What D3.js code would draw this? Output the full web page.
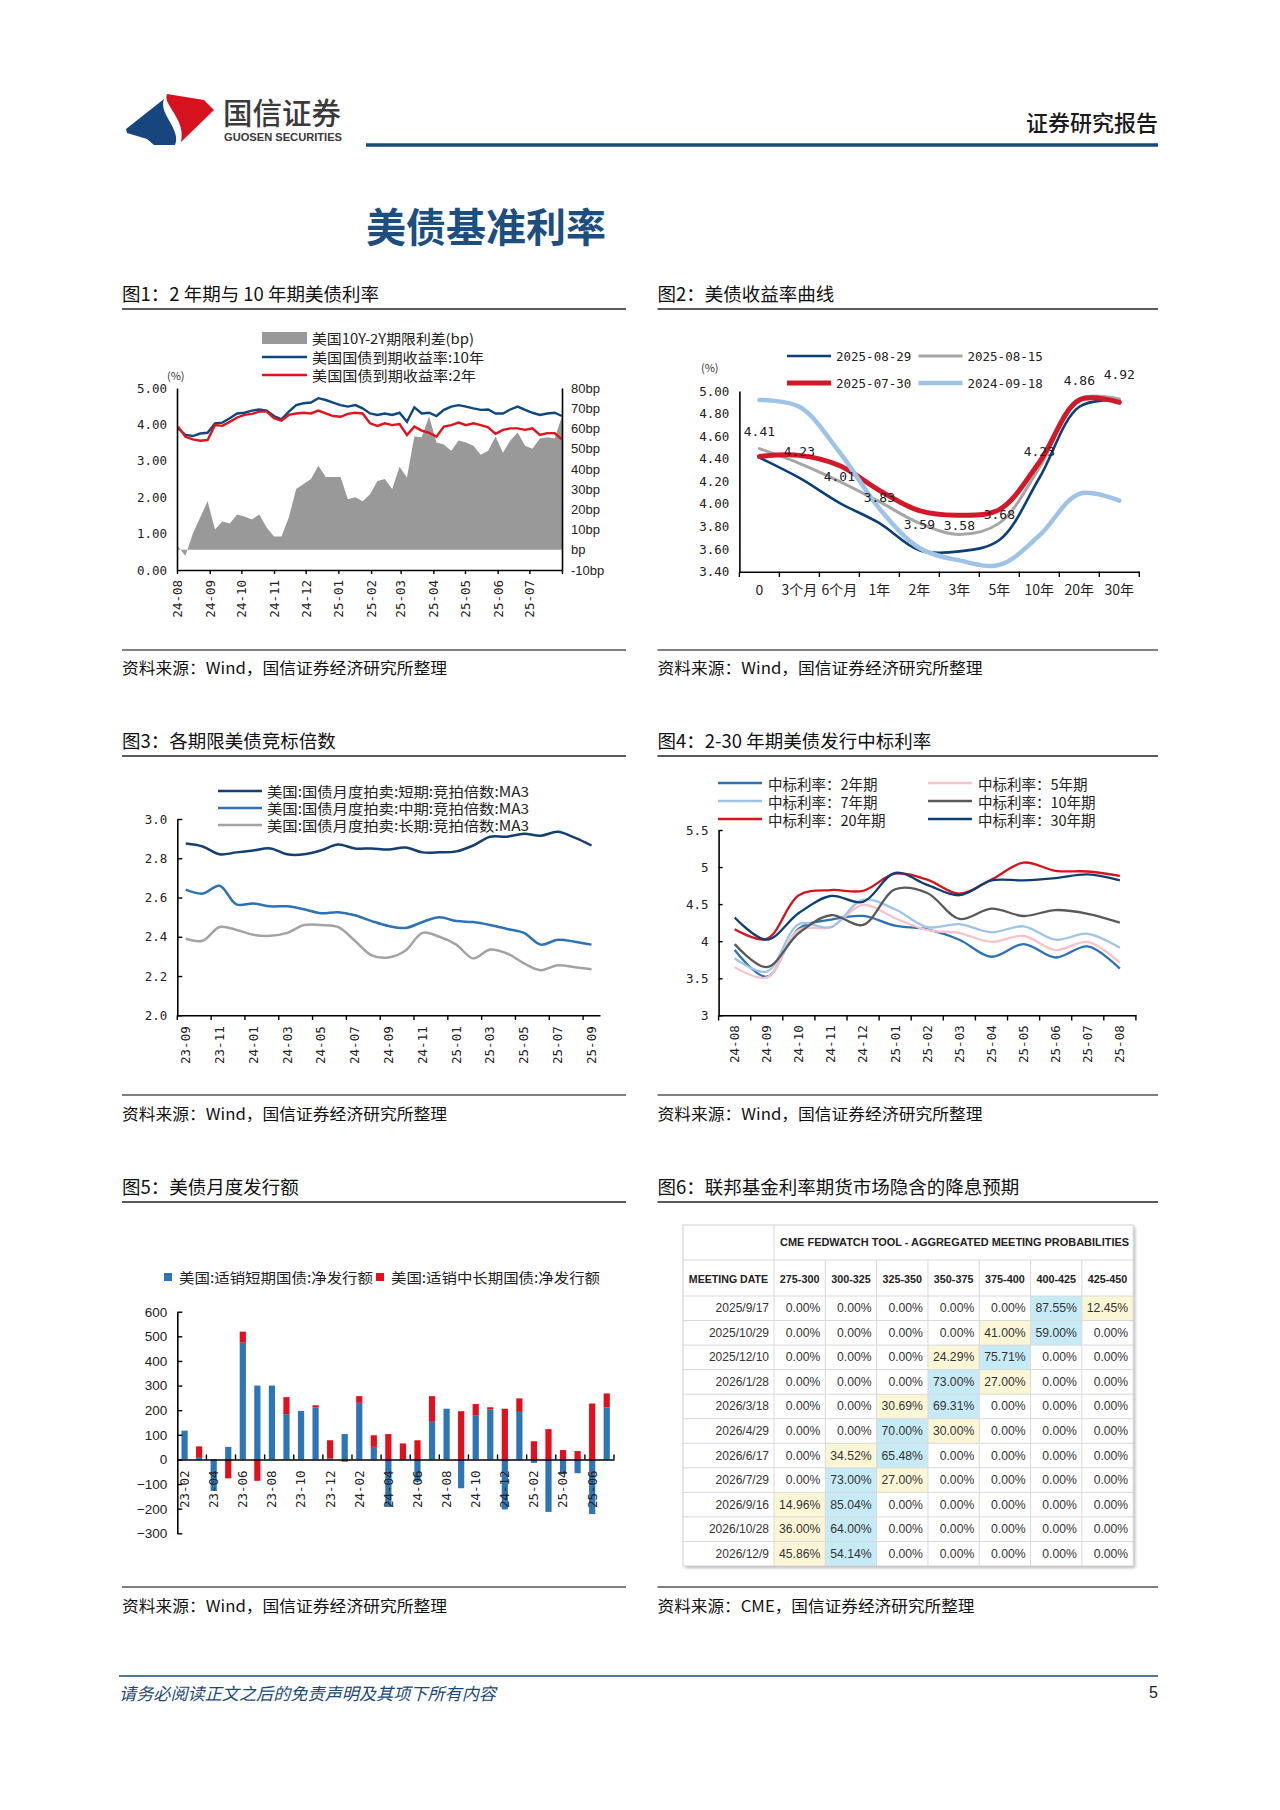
<!DOCTYPE html>
<html><head><meta charset="utf-8">
<script src="https://cdn.jsdelivr.net/npm/d3@7"></script>
<style>html,body{margin:0;padding:0;background:#fff}svg{display:block}</style>
</head><body>
<svg id="page" width="1280" height="1810" xmlns="http://www.w3.org/2000/svg"></svg>
<script>
// ================= DATA =================
// Chart 1: weekly readings 2024-08-02 .. 2025-07-31
const c1Start = "2024-08-02";
const c1Y10 = [3.89,3.71,3.68,3.75,3.77,4.03,4.05,4.17,4.30,4.32,4.38,4.41,4.38,4.23,4.14,4.35,4.53,4.58,4.60,4.72,4.67,4.60,4.53,4.49,4.53,4.44,4.30,4.26,4.30,4.26,4.32,4.07,4.47,4.30,4.32,4.23,4.40,4.49,4.53,4.49,4.44,4.40,4.41,4.30,4.30,4.41,4.49,4.40,4.32,4.26,4.30,4.32,4.23];
const c1Y2 = [3.94,3.66,3.59,3.55,3.57,3.98,3.96,4.07,4.19,4.26,4.29,4.35,4.35,4.17,4.10,4.26,4.30,4.32,4.30,4.38,4.30,4.23,4.21,4.29,4.32,4.30,4.03,3.96,4.03,3.98,4.01,3.71,3.94,3.83,3.77,3.66,3.94,3.98,4.05,3.98,4.03,3.98,3.92,3.74,3.85,3.89,3.89,3.85,3.89,3.71,3.76,3.76,3.59];
const c1Spread = [1.5,-3,8,16,24,10,14,13,17.5,16.5,15,17.5,11,6.6,6.6,16,30,32.5,35,41.5,36,36,36,25,26,24,27.5,34,35,30,41,35.8,56,55.6,66,53,52,49,54,53,51.5,47,49,56,48,54,58,51.5,50,55,55.6,55,66];
const c1TickLabels = ["24-08","24-09","24-10","24-11","24-12","25-01","25-02","25-03","25-04","25-05","25-06","25-07"];
const c1LeftTicks = [0,1,2,3,4,5];
const c1RightTicks = [-10,0,10,20,30,40,50,60,70,80];
const c1Legend = ["美国10Y-2Y期限利差(bp)","美国国债到期收益率:10年","美国国债到期收益率:2年"];

// Chart 2: yield curves
const c2Cats = ["0","3个月","6个月","1年","2年","3年","5年","10年","20年","30年"];
const c2_0829 = [4.41,4.23,4.01,3.83,3.59,3.58,3.68,4.23,4.86,4.92];
const c2_0815 = [4.49,4.36,4.20,4.02,3.83,3.73,3.83,4.32,4.93,4.93];
const c2_0730 = [4.42,4.43,4.34,4.12,3.94,3.90,3.95,4.37,4.92,4.90];
const c2_0918 = [4.92,4.86,4.46,3.96,3.61,3.50,3.46,3.72,4.09,4.03];
const c2Names = ["2025-08-29","2025-08-15","2025-07-30","2024-09-18"];
const c2Ticks = [3.4,3.6,3.8,4.0,4.2,4.4,4.6,4.8,5.0];

// Chart 3: bid-to-cover MA3
const c3Cats = ["23-09","23-10","23-11","23-12","24-01","24-02","24-03","24-04","24-05","24-06","24-07","24-08","24-09","24-10","24-11","24-12","25-01","25-02","25-03","25-04","25-05","25-06","25-07","25-08","25-09"];
const c3Short = [2.875,2.86,2.82,2.83,2.84,2.85,2.82,2.82,2.84,2.87,2.85,2.85,2.845,2.855,2.83,2.83,2.835,2.865,2.91,2.91,2.925,2.915,2.935,2.905,2.865];
const c3Mid = [2.64,2.62,2.66,2.565,2.57,2.555,2.555,2.54,2.52,2.525,2.51,2.48,2.455,2.445,2.475,2.50,2.48,2.475,2.46,2.44,2.42,2.36,2.385,2.375,2.36];
const c3Long = [2.39,2.38,2.45,2.435,2.41,2.405,2.42,2.46,2.46,2.45,2.38,2.305,2.295,2.33,2.42,2.40,2.36,2.29,2.335,2.315,2.265,2.23,2.255,2.245,2.235];
const c3Names = ["美国:国债月度拍卖:短期:竞拍倍数:MA3","美国:国债月度拍卖:中期:竞拍倍数:MA3","美国:国债月度拍卖:长期:竞拍倍数:MA3"];
const c3Ticks = [2.0,2.2,2.4,2.6,2.8,3.0];

// Chart 4: auction high yields
const c4Cats = ["24-08","24-09","24-10","24-11","24-12","25-01","25-02","25-03","25-04","25-05","25-06","25-07","25-08"];
const c4Y2 = [3.88,3.52,4.17,4.29,4.34,4.21,4.16,4.02,3.79,3.96,3.78,3.93,3.63];
const c4Y5 = [3.65,3.51,4.15,4.19,4.49,4.31,4.15,4.11,3.99,4.07,3.88,3.99,3.71];
const c4Y7 = [3.77,3.59,4.23,4.19,4.56,4.43,4.19,4.23,4.12,4.20,4.02,4.10,3.91];
const c4Y10 = [3.96,3.65,4.11,4.35,4.22,4.70,4.65,4.30,4.44,4.34,4.42,4.37,4.25];
const c4Y20 = [4.16,4.03,4.62,4.69,4.68,4.91,4.83,4.64,4.83,5.06,4.95,4.94,4.88];
const c4Y30 = [4.32,4.02,4.38,4.61,4.53,4.92,4.76,4.62,4.82,4.82,4.85,4.90,4.82];
const c4Names = ["中标利率：2年期","中标利率：5年期","中标利率：7年期","中标利率：10年期","中标利率：20年期","中标利率：30年期"];
const c4Ticks = [3,3.5,4,4.5,5,5.5];

// Chart 5: monthly net issuance
const c5Cats = ["23-02","23-03","23-04","23-05","23-06","23-07","23-08","23-09","23-10","23-11","23-12","24-01","24-02","24-03","24-04","24-05","24-06","24-07","24-08","24-09","24-10","24-11","24-12","25-01","25-02","25-03","25-04","25-05","25-06","25-07"];
const c5Short = [117,10,-128,51,474,300,300,184,197,211,4,103,230,51,-193,-2,-90,153,206,-117,180,203,-203,193,-14,-213,-60,-56,-222,211];
const c5Long = [0,43,0,-77,45,-87,0,69,0,9,74,-9,27,47,103,65,78,104,0,196,45,9,206,55,74,123,38,34,227,57];
const c5Names = ["美国:适销短期国债:净发行额","美国:适销中长期国债:净发行额"];
const c5Ticks = [-300,-200,-100,0,100,200,300,400,500,600];

// Chart 6: FedWatch table
const c6Dates = ["2025/9/17","2025/10/29","2025/12/10","2026/1/28","2026/3/18","2026/4/29","2026/6/17","2026/7/29","2026/9/16","2026/10/28","2026/12/9"];
const c6Ranges = ["275-300","300-325","325-350","350-375","375-400","400-425","425-450"];
const c6Probs = [
 [0,0,0,0,0,87.55,12.45],
 [0,0,0,0,41.00,59.00,0],
 [0,0,0,24.29,75.71,0,0],
 [0,0,0,73.00,27.00,0,0],
 [0,0,30.69,69.31,0,0,0],
 [0,0,70.00,30.00,0,0,0],
 [0,34.52,65.48,0,0,0,0],
 [0,73.00,27.00,0,0,0,0],
 [14.96,85.04,0,0,0,0,0],
 [36.00,64.00,0,0,0,0,0],
 [45.86,54.14,0,0,0,0,0]
];

// ================= HELPERS =================
const CJK = '"Noto Sans CJK SC","Noto Sans",sans-serif';
const MONO = '"DejaVu Sans Mono","Liberation Mono",monospace';
const ARIAL = '"Liberation Sans",Arial,sans-serif';
const svg = d3.select("#page");

function txt(g, x, y, s, o = {}) {
  const t = g.append("text").attr("x", x).attr("y", y)
    .attr("dominant-baseline", "central")
    .attr("font-family", o.ff || CJK).attr("font-size", o.fs || 13)
    .attr("fill", o.fill || "#222").attr("text-anchor", o.anchor || "start")
    .attr("font-weight", o.fw || "normal").attr("font-style", o.style || "normal")
    .text(s);
  if (o.len) t.attr("textLength", o.len).attr("lengthAdjust", "spacingAndGlyphs");
  return t;
}
function hline(g, x1, x2, y, color, w) {
  g.append("line").attr("x1", x1).attr("x2", x2).attr("y1", y).attr("y2", y)
    .attr("stroke", color).attr("stroke-width", w);
}
function styleAxis(sel, ff, fs) {
  sel.attr("font-family", ff).attr("font-size", fs);
  sel.select(".domain").attr("stroke", "#000").attr("stroke-width", 1.6);
  sel.selectAll(".tick line").attr("stroke", "#000").attr("stroke-width", 1.4);
  sel.selectAll(".tick text").attr("fill", "#222");
  return sel;
}
function rotateLabels(sel, off) {
  sel.selectAll(".tick text").attr("transform", "rotate(-90)")
    .attr("text-anchor", "end").attr("x", -off).attr("y", 0).attr("dy", "0.35em");
}
function panel(x0, x1, rowY, title, source, srcLen) {
  const g = svg.append("g");
  txt(g, x0, rowY.t, title, { fs: 18.5, fill: "#111" });
  hline(g, x0, x1, rowY.l, "#222", 1.3);
  hline(g, x0, x1, rowY.s, "#7f7f7f", 1.8);
  txt(g, x0, rowY.st, source, { fs: 15.5, fill: "#111", len: srcLen });
}

// ================= HEADER =================
const hd = svg.append("g");
hd.append("path").attr("d", "M167,94 L204,100 L214,110 L181,142 C184,128 177,118 172,110 C168,103 165,99 167,94 Z").attr("fill", "#d7121f");
hd.append("path").attr("d", "M164,99 C161,107 166,115 170,122 C175,131 178,138 175,145 L154,145 L147,139 L127,133 L126,129 Z").attr("fill", "#16467d");
txt(hd, 223, 111, "国信证券", { fs: 29.5, fill: "#3a3a3a", fw: 500 });
txt(hd, 224, 137, "GUOSEN SECURITIES", { fs: 11, fill: "#3a3a3a", fw: "bold", ff: ARIAL, len: 118 });
txt(hd, 1158, 121, "证券研究报告", { fs: 22, fill: "#1a1a1a", anchor: "end", fw: 500 });
hline(hd, 366, 1158, 145, "#1c4a78", 3.5);
txt(hd, 366, 225, "美债基准利率", { fs: 40, fill: "#1d4e80", fw: "bold" });

// ================= PANELS =================
const R1 = { t: 293, l: 309, s: 650, st: 667 };
const R2 = { t: 740, l: 756, s: 1095, st: 1113 };
const R3 = { t: 1186, l: 1202, s: 1587, st: 1605 };
const LX = [122, 626], RX = [657.5, 1158];
const SRC = "资料来源：Wind，国信证券经济研究所整理";
panel(LX[0], LX[1], R1, "图1：2 年期与 10 年期美债利率", SRC, 325);
panel(RX[0], RX[1], R1, "图2：美债收益率曲线", SRC, 325);
panel(LX[0], LX[1], R2, "图3：各期限美债竞标倍数", SRC, 325);
panel(RX[0], RX[1], R2, "图4：2-30 年期美债发行中标利率", SRC, 325);
panel(LX[0], LX[1], R3, "图5：美债月度发行额", SRC, 325);
panel(RX[0], RX[1], R3, "图6：联邦基金利率期货市场隐含的降息预期", "资料来源：CME，国信证券经济研究所整理", 317);

// ================= CHART 1 =================
(function () {
  const g = svg.append("g");
  const parseYM = d3.timeParse("%y-%m");
  const start = d3.timeParse("%Y-%m-%d")(c1Start);
  const dates = c1Y10.map((_, i) => d3.timeDay.offset(start, 7 * i));
  const x = d3.scaleTime().domain([parseYM("24-08"), parseYM("25-08")]).range([177, 562]);
  const yL = d3.scaleLinear().domain([0, 5]).range([570, 388]);
  const yR = d3.scaleLinear().domain([-10, 80]).range([570, 388]);
  g.append("path").datum(c1Spread)
    .attr("d", d3.area().x((d, i) => x(dates[i])).y0(yR(0)).y1(d => yR(d)))
    .attr("fill", "#999999");
  const ln = d3.line().x((d, i) => x(dates[i])).y(d => yL(d));
  g.append("path").datum(c1Y10).attr("d", ln).attr("fill", "none").attr("stroke", "#0f477f").attr("stroke-width", 2.4);
  g.append("path").datum(c1Y2).attr("d", ln).attr("fill", "none").attr("stroke", "#e0141f").attr("stroke-width", 2.4);
  styleAxis(g.append("g").attr("transform", "translate(177,0)")
    .call(d3.axisLeft(yL).tickValues(c1LeftTicks).tickSize(0).tickSizeOuter(0).tickPadding(10).tickFormat(d3.format(".2f"))), MONO, 12.5);
  styleAxis(g.append("g").attr("transform", "translate(562,0)")
    .call(d3.axisRight(yR).tickValues(c1RightTicks).tickSize(0).tickSizeOuter(0).tickPadding(9).tickFormat(d => d === 0 ? "bp" : d + "bp")), ARIAL, 13);
  const tv = c1TickLabels.map(parseYM).concat([parseYM("25-08")]);
  const xa = styleAxis(g.append("g").attr("transform", "translate(0,570)")
    .call(d3.axisBottom(x).tickValues(tv).tickSize(4).tickSizeOuter(0)
      .tickFormat(d => { const s = d3.timeFormat("%y-%m")(d); return c1TickLabels.includes(s) ? s : ""; })), MONO, 12.5);
  rotateLabels(xa, 10);
  txt(g, 167, 375, "(%)", { fs: 11, fill: "#333" });
  // legend
  g.append("rect").attr("x", 262).attr("y", 332).attr("width", 45).attr("height", 12).attr("fill", "#999999");
  hline(g, 262, 307, 357, "#0f477f", 2.4);
  hline(g, 262, 307, 375, "#e0141f", 2.4);
  const lens = [162, 172, 164];
  c1Legend.forEach((s, i) => txt(g, 312, [338, 357, 375][i], s, { fs: 14, fill: "#222", len: lens[i] }));
})();

// ================= CHART 2 =================
(function () {
  const g = svg.append("g");
  const x = d3.scaleBand().domain(c2Cats).range([739.4, 1139.3]);
  const y = d3.scaleLinear().domain([3.4, 5.0]).range([571.7, 391]);
  const cx = i => x(c2Cats[i]) + x.bandwidth() / 2;
  const series = [
    { v: c2_0829, c: "#0c3f73", w: 2.6 },
    { v: c2_0815, c: "#a6a6a6", w: 3 },
    { v: c2_0730, c: "#d1192a", w: 5 },
    { v: c2_0918, c: "#9ec3e6", w: 4.5 }
  ];
  const ln = d3.line().x((d, i) => cx(i)).y(d => y(d)).curve(d3.curveCatmullRom.alpha(0.5));
  series.forEach(s => g.append("path").datum(s.v).attr("d", ln).attr("fill", "none")
    .attr("stroke", s.c).attr("stroke-width", s.w).attr("stroke-linecap", "round"));
  styleAxis(g.append("g").attr("transform", "translate(739.4,0)")
    .call(d3.axisLeft(y).tickValues(c2Ticks).tickSize(0).tickSizeOuter(0).tickPadding(10).tickFormat(d3.format(".2f"))), MONO, 12.5);
  const xa = styleAxis(g.append("g").attr("transform", "translate(0,571.7)")
    .call(d3.axisBottom(x).tickSize(0).tickSizeOuter(0).tickPadding(12)), CJK, 14);
  xa.selectAll(".tick text").attr("dy", "0.35em").attr("y", 18);
  const bounds = c2Cats.map(c => x(c)).concat([x.range()[1]]);
  g.selectAll(".c2tick").data(bounds).enter().append("line")
    .attr("x1", d => d).attr("x2", d => d).attr("y1", 571.7).attr("y2", 577)
    .attr("stroke", "#000").attr("stroke-width", 1.4);
  // data labels for 2025-08-29
  c2_0829.forEach((v, i) => txt(g, cx(i), y(v) - 26, d3.format(".2f")(v), { ff: MONO, fs: 13, anchor: "middle", fill: "#222" }));
  txt(g, 701, 367, "(%)", { fs: 11, fill: "#333" });
  // legend
  const lg = [[787, 356], [918.5, 356], [787, 383], [918.5, 383]];
  series.forEach((s, i) => {
    hline(g, lg[i][0], lg[i][0] + 44, lg[i][1], s.c, s.w);
    txt(g, lg[i][0] + 49, lg[i][1], c2Names[i], { ff: MONO, fs: 12.5, fill: "#222" });
  });
})();

// ================= CHART 3 =================
(function () {
  const g = svg.append("g");
  const x = d3.scaleBand().domain(c3Cats).range([177.3, 600]);
  const y = d3.scaleLinear().domain([2.0, 3.0]).range([1015.3, 819]);
  const cx = i => x(c3Cats[i]) + x.bandwidth() / 2;
  const series = [
    { v: c3Short, c: "#143f6e" },
    { v: c3Mid, c: "#2f72b3" },
    { v: c3Long, c: "#a3a3a3" }
  ];
  const ln = d3.line().x((d, i) => cx(i)).y(d => y(d)).curve(d3.curveCatmullRom.alpha(0.5));
  series.forEach(s => g.append("path").datum(s.v).attr("d", ln).attr("fill", "none")
    .attr("stroke", s.c).attr("stroke-width", 2.5));
  styleAxis(g.append("g").attr("transform", "translate(177.3,0)")
    .call(d3.axisLeft(y).tickValues(c3Ticks).tickSize(-5).tickSizeOuter(0).tickPadding(10).tickFormat(d3.format(".1f"))), MONO, 12.5);
  const labelCats = c3Cats.filter((c, i) => i % 2 === 0);
  const xa = styleAxis(g.append("g").attr("transform", "translate(0,1015.3)")
    .call(d3.axisBottom(x).tickValues(labelCats).tickSize(0).tickSizeOuter(0)), MONO, 12.5);
  rotateLabels(xa, 11);
  const bounds = labelCats.map(c => x(c));
  g.selectAll(".c3tick").data(bounds).enter().append("line")
    .attr("x1", d => d).attr("x2", d => d).attr("y1", 1015.3).attr("y2", 1020)
    .attr("stroke", "#000").attr("stroke-width", 1.4);
  [791, 808, 825].forEach((yy, i) => {
    hline(g, 218, 262, yy, series[i].c, 2.5);
    txt(g, 267, yy, c3Names[i], { fs: 14, fill: "#222", len: 262 });
  });
})();

// ================= CHART 4 =================
(function () {
  const g = svg.append("g");
  const x = d3.scaleBand().domain(c4Cats).range([718.6, 1135.9]);
  const y = d3.scaleLinear().domain([3, 5.5]).range([1015.3, 830]);
  const cx = i => x(c4Cats[i]) + x.bandwidth() / 2;
  const series = [
    { v: c4Y2, c: "#2e72b4" },
    { v: c4Y5, c: "#f6c3cb" },
    { v: c4Y7, c: "#9fc4e7" },
    { v: c4Y10, c: "#595959" },
    { v: c4Y20, c: "#d6141d" },
    { v: c4Y30, c: "#0f3f70" }
  ];
  const ln = d3.line().x((d, i) => cx(i)).y(d => y(d)).curve(d3.curveCatmullRom.alpha(0.5));
  series.forEach(s => g.append("path").datum(s.v).attr("d", ln).attr("fill", "none")
    .attr("stroke", s.c).attr("stroke-width", 2.3));
  styleAxis(g.append("g").attr("transform", "translate(718.6,0)")
    .call(d3.axisLeft(y).tickValues(c4Ticks).tickSize(-4).tickSizeOuter(0).tickPadding(10).tickFormat(d => d % 1 ? d.toFixed(1) : String(d))), MONO, 12.5);
  const xa = styleAxis(g.append("g").attr("transform", "translate(0,1015.3)")
    .call(d3.axisBottom(x).tickSize(0).tickSizeOuter(0)), MONO, 12.5);
  rotateLabels(xa, 10);
  const bounds = c4Cats.map(c => x(c)).concat([x.range()[1]]);
  g.selectAll(".c4tick").data(bounds).enter().append("line")
    .attr("x1", d => d).attr("x2", d => d).attr("y1", 1015.3).attr("y2", 1020.5)
    .attr("stroke", "#000").attr("stroke-width", 1.4);
  const pos = [[718, 783], [928, 783], [718, 801], [928, 801], [718, 819], [928, 819]];
  pos.forEach((p, i) => {
    hline(g, p[0], p[0] + 44, p[1], series[i].c, 2.5);
    txt(g, p[0] + 50, p[1], c4Names[i], { fs: 14.5, fill: "#222" });
  });
})();

// ================= CHART 5 =================
(function () {
  const g = svg.append("g");
  const x = d3.scaleBand().domain(c5Cats).range([177.3, 614]);
  const y = d3.scaleLinear().domain([-300, 600]).range([1533.3, 1311.7]);
  const rows = c5Cats.map((c, i) => ({ cat: c, short: c5Short[i], long: c5Long[i] }));
  const stack = d3.stack().keys(["short", "long"]).offset(d3.stackOffsetDiverging)(rows);
  const colors = { short: "#2e75b6", long: "#e0101d" };
  const bw = 6.2;
  stack.forEach(layer => {
    g.append("g").selectAll("rect").data(layer).enter().append("rect")
      .attr("x", d => x(d.data.cat) + (x.bandwidth() - bw) / 2)
      .attr("width", bw)
      .attr("y", d => y(Math.max(d[0], d[1])))
      .attr("height", d => Math.abs(y(d[0]) - y(d[1])))
      .attr("fill", colors[layer.key]);
  });
  styleAxis(g.append("g").attr("transform", "translate(177.3,0)")
    .call(d3.axisLeft(y).tickValues(c5Ticks).tickSize(-5).tickSizeOuter(0).tickPadding(10)), ARIAL, 13.5);
  const labelCats = c5Cats.filter((c, i) => i % 2 === 0);
  const xa = styleAxis(g.append("g").attr("transform", "translate(0," + y(0) + ")")
    .call(d3.axisBottom(x).tickValues(labelCats).tickSize(0).tickSizeOuter(0)), MONO, 12.5);
  rotateLabels(xa, 11);
  const bounds = c5Cats.filter((c, i) => i % 2 === 0 && i > 0).map(c => x(c)).concat([x.range()[1]]);
  g.selectAll(".c5tick").data(bounds).enter().append("line")
    .attr("x1", d => d).attr("x2", d => d).attr("y1", y(0)).attr("y2", y(0) - 5)
    .attr("stroke", "#000").attr("stroke-width", 1.4);
  // legend
  g.append("rect").attr("x", 164).attr("y", 1273).attr("width", 8).attr("height", 8).attr("fill", colors.short);
  txt(g, 179, 1277, c5Names[0], { fs: 14, fill: "#222", len: 194 });
  g.append("rect").attr("x", 376).attr("y", 1273).attr("width", 8).attr("height", 8).attr("fill", colors.long);
  txt(g, 391, 1277, c5Names[1], { fs: 14, fill: "#222", len: 209 });
})();

// ================= CHART 6 (table) =================
(function () {
  const g = svg.append("g");
  const defs = svg.append("defs");
  const f = defs.append("filter").attr("id", "sh").attr("x", "-5%").attr("y", "-5%").attr("width", "110%").attr("height", "110%");
  f.append("feDropShadow").attr("dx", 2).attr("dy", 2).attr("stdDeviation", 1.6).attr("flood-color", "#000").attr("flood-opacity", 0.28);
  const L = 683, Rr = 1133.2, T = 1225, B = 1566, H1 = 1260, H2 = 1296, C0 = 774;
  g.append("rect").attr("x", L).attr("y", T).attr("width", Rr - L).attr("height", B - T)
    .attr("fill", "#fff").attr("filter", "url(#sh)");
  const x = d3.scaleBand().domain(c6Ranges).range([C0, Rr]);
  const y = d3.scaleBand().domain(c6Dates).range([H2, B]);
  const cells = [];
  c6Probs.forEach((row, r) => {
    const mx = d3.max(row);
    row.forEach((v, c) => cells.push({ r, c, v, hl: v === 0 ? null : (v === mx ? "#c7eaf7" : "#fbf6d5") }));
  });
  g.selectAll(".hl").data(cells.filter(d => d.hl)).enter().append("rect")
    .attr("x", d => x(c6Ranges[d.c])).attr("y", d => y(c6Dates[d.r]))
    .attr("width", x.bandwidth()).attr("height", y.bandwidth()).attr("fill", d => d.hl);
  const grid = "#d9d9d9";
  [H1, H2].concat(c6Dates.slice(1).map(d => y(d))).forEach(yy => hline(g, L, Rr, yy, grid, 1));
  g.append("line").attr("x1", C0).attr("x2", C0).attr("y1", T).attr("y2", B).attr("stroke", grid);
  c6Ranges.slice(1).forEach(c => g.append("line").attr("x1", x(c)).attr("x2", x(c)).attr("y1", H1).attr("y2", B).attr("stroke", grid));
  g.append("rect").attr("x", L).attr("y", T).attr("width", Rr - L).attr("height", B - T)
    .attr("fill", "none").attr("stroke", "#d0d0d0");
  txt(g, (C0 + Rr) / 2 + 1, 1242, "CME FEDWATCH TOOL - AGGREGATED MEETING PROBABILITIES", { ff: ARIAL, fs: 10.5, fw: "bold", anchor: "middle", fill: "#222", len: 349 });
  txt(g, (L + C0) / 2, 1279, "MEETING DATE", { ff: ARIAL, fs: 10.6, fw: "bold", anchor: "middle", fill: "#222" });
  c6Ranges.forEach(c => txt(g, x(c) + x.bandwidth() / 2, 1279, c, { ff: ARIAL, fs: 10.8, fw: "bold", anchor: "middle", fill: "#222" }));
  c6Dates.forEach(d => txt(g, C0 - 5, y(d) + y.bandwidth() / 2, d, { ff: ARIAL, fs: 12, anchor: "end", fill: "#333" }));
  g.selectAll(".cv").data(cells).enter().append("text")
    .attr("x", d => x(c6Ranges[d.c]) + x.bandwidth() - 5)
    .attr("y", d => y(c6Dates[d.r]) + y.bandwidth() / 2)
    .attr("dominant-baseline", "central").attr("text-anchor", "end")
    .attr("font-family", ARIAL).attr("font-size", 12.2).attr("fill", "#333")
    .text(d => d3.format(".2f")(d.v) + "%");
})();

// ================= FOOTER =================
const ft = svg.append("g");
hline(ft, 119, 1158, 1676, "#1c4a78", 1.5);
txt(ft, 119, 1692, "请务必阅读正文之后的免责声明及其项下所有内容", { fs: 17, fill: "#1c4a78", style: "italic", len: 377 });
txt(ft, 1158, 1692, "5", { fs: 16, fill: "#222", anchor: "end", ff: ARIAL });
</script>
</body></html>
